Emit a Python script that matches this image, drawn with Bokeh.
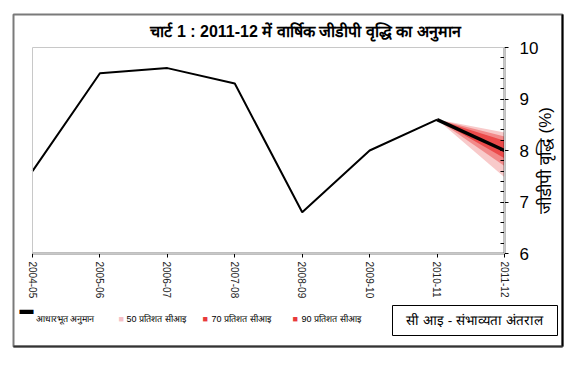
from bokeh.plotting import figure
from bokeh.models import Range1d, FixedTicker, LinearAxis, Label, BoxAnnotation
from bokeh.embed import file_html
from bokeh.resources import INLINE

years = ["2004-05", "2005-06", "2006-07", "2007-08", "2008-09", "2009-10", "2010-11", "2011-12"]
gdp = [7.6, 9.5, 9.6, 9.3, 6.8, 8.0, 8.6, 8.0]
fan_years = ["2010-11", "2011-12"]
ci90_lo = [8.6, 7.48]
ci90_hi = [8.6, 8.35]
ci70_lo = [8.6, 7.7]
ci70_hi = [8.6, 8.27]
ci50_lo = [8.6, 7.85]
ci50_hi = [8.6, 8.19]
y_ticks = [6, 7, 8, 9, 10]

title_text = "चार्ट 1 : 2011-12 में वार्षिक जीडीपी वृद्धि का अनुमान"
ylabel_text = "जीडीपी वृद्धि (%)"
legend_texts = ["आधारभूत अनुमान", "50 प्रतिशत सीआइ", "70 प्रतिशत सीआइ", "90 प्रतिशत सीआइ"]
note_text = "सी आइ - संभाव्यता अंतराल"

FONT = "Liberation Sans"
# canvas geometry (page pixels)
CX, CY = 0, 0
CW, CH = 572, 360
# plot-area rectangle on the page
PL, PR, PT, PB = 32, 504, 47, 253

xs = list(range(len(years)))
fx = [years.index(y) for y in fan_years]
x0, x1 = 0, len(years) - 1
y0, y1 = y_ticks[0], y_ticks[-1]
kx = (PR - PL) / (x1 - x0)
ky = (PB - PT) / (y1 - y0)
xr = Range1d(x0 - (PL - CX) / kx, x1 + (CX + CW - PR) / kx)
yr = Range1d(y0 - (CY + CH - PB) / ky, y1 + (PT - CY) / ky)

def dx(px):
    return x0 + (px - PL) / kx

def dy(py):
    return y0 + (PB - py) / ky

def sx(px):
    return px - CX

def sy(py):
    return CY + CH - py

p = figure(width=CW, height=CH, output_backend="svg", toolbar_location=None,
           x_range=xr, y_range=yr,
           min_border_left=0, min_border_right=0, min_border_top=0, min_border_bottom=0)
p.xaxis.visible = False
p.yaxis.visible = False
p.grid.visible = False
p.outline_line_color = None
p.background_fill_color = "white"
p.border_fill_color = "white"

def box(l, r, t, b, line_color, line_width=1, fill_color=None, data=False):
    if not data:
        l, r, t, b = dx(l), dx(r), dy(t), dy(b)
    p.add_layout(BoxAnnotation(left=l, right=r, top=t, bottom=b,
                               fill_color=fill_color, fill_alpha=1.0,
                               line_color=line_color, line_alpha=1.0, line_width=line_width))

# outer border of the chart: grey left/top, black right, dark bottom
box(13, 562, 14, 346, "#7a7a7a", 2)
box(562, 562, 14, 346, "#000000", 2)
box(13, 562, 346, 346, "#333333", 2)
# plot-area outline (light grey top and left)
box(x0, x1, y1, y0, "#c8c8c8", 1, data=True)
# note box frame
box(392, 557, 305, 335, "black", 1, fill_color="white")

# fan
p.varea(x=fx, y1=ci90_lo, y2=ci90_hi, fill_color="#f8caca")
p.varea(x=fx, y1=ci70_lo, y2=ci70_hi, fill_color="#f28a8a")
p.varea(x=fx, y1=ci50_lo, y2=ci50_hi, fill_color="#ec4a4a")
p.line(xs[:7], gdp[:7], line_color="black", line_width=2)
p.line(fx, [gdp[6], gdp[7]], line_color="black", line_width=3.5)

# bottom axis
xa = LinearAxis(ticker=FixedTicker(ticks=xs), fixed_location=y0, bounds=(x0, x1),
                major_label_overrides={i: y for i, y in enumerate(years)},
                major_label_orientation="vertical",
                major_label_text_font=FONT, major_label_text_font_size="10px",
                major_label_text_color="#222", major_label_standoff=4,
                axis_line_color="black", axis_line_width=1.5,
                major_tick_in=0, major_tick_out=4, minor_tick_line_color=None)
p.add_layout(xa, "below")

# right axis
ya = LinearAxis(ticker=FixedTicker(ticks=y_ticks, minor_ticks=[y0 + 0.2 * i for i in range(21)]),
                fixed_location=x1, bounds=(y0, y1),
                major_label_text_font=FONT, major_label_text_font_size="17px",
                major_label_text_color="black", major_label_standoff=11,
                axis_line_color="black", axis_line_width=1.5,
                major_tick_in=4, major_tick_out=4, minor_tick_in=4, minor_tick_out=0,
                major_tick_line_color="black", minor_tick_line_color="black")
p.add_layout(ya, "right")

def lab(x, y, text, size, bold=False, angle=0, align="left", baseline="middle", color="black", **kw):
    p.add_layout(Label(x=sx(x), y=sy(y), x_units="screen", y_units="screen",
                       text=text, text_font=FONT, text_font_size=size, angle=angle,
                       text_font_style="bold" if bold else "normal",
                       text_align=align, text_baseline=baseline, text_color=color, **kw))

# title
lab(305, 31, title_text, "16px", bold=True, align="center")
# y label
lab(545, 160, ylabel_text, "17px", angle=1.5708, align="center")

# legend
lab(19, 308, "▬", "14px")
lab(35, 318, legend_texts[0], "9px")
lab(118, 318, "■", "9px", color="#f5bfc6")
lab(126, 318, legend_texts[1], "9px")
lab(202, 318, "■", "9px", color="#e83a3a")
lab(211, 318, legend_texts[2], "9px")
lab(292, 318, "■", "9px", color="#e83a3a")
lab(301, 318, legend_texts[3], "9px")

# note text
lab(474, 320, note_text, "13.5px", align="center")

open("out.html", "w").write(file_html(p, INLINE))
